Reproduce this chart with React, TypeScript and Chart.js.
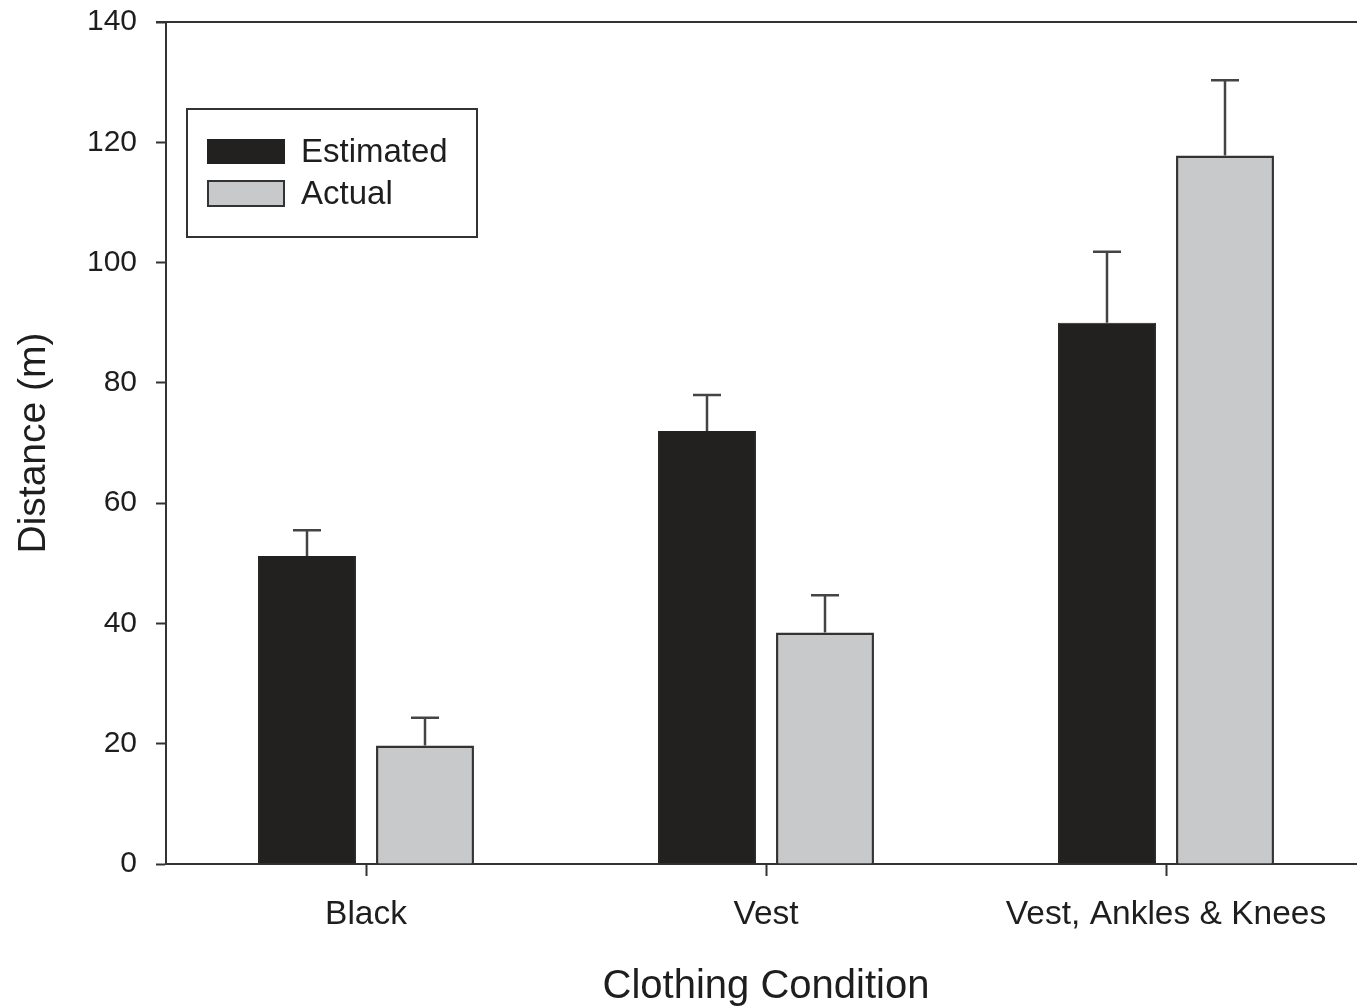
import React, { useEffect, useRef } from "react";
import { Chart, registerables } from "chart.js";

Chart.register(...registerables);

const categories = ["Black", "Vest", "Vest, Ankles & Knees"];
const seriesNames = ["Estimated", "Actual"];
const estimatedValues = [51.2, 72, 90];
const estimatedErrors = [4.3, 6, 11.8];
const actualValues = [19.7, 38.5, 117.8];
const actualErrors = [4.6, 6.2, 12.5];
const yTicks = [0, 20, 40, 60, 80, 100, 120, 140];

const FONT = "'Liberation Sans', Arial, sans-serif";
const TEXT = "#1e1e1e";
const LINE = "#333333";

const errorBarsPlugin = {
  id: "errorBars",
  afterDatasetsDraw(chart: any) {
    const ctx = chart.ctx;
    const yScale = chart.scales.y;
    chart.data.datasets.forEach((ds: any, di: number) => {
      const meta = chart.getDatasetMeta(di);
      const errs: number[] = ds.errors || [];
      meta.data.forEach((bar: any, i: number) => {
        const v = ds.data[i];
        const e = errs[i];
        if (e == null) return;
        const yTop = yScale.getPixelForValue(v + e);
        const yBar = yScale.getPixelForValue(v);
        ctx.save();
        ctx.strokeStyle = "#444444";
        ctx.lineWidth = 2.5;
        ctx.beginPath();
        ctx.moveTo(bar.x, yBar);
        ctx.lineTo(bar.x, yTop);
        ctx.moveTo(bar.x - 14, yTop);
        ctx.lineTo(bar.x + 14, yTop);
        ctx.stroke();
        ctx.restore();
      });
    });
  },
};

const frameAndLegendPlugin = {
  id: "frameAndLegend",
  afterDraw(chart: any) {
    const ctx = chart.ctx;
    const area = chart.chartArea;
    ctx.save();
    // top frame line
    ctx.strokeStyle = LINE;
    ctx.lineWidth = 2;
    ctx.beginPath();
    ctx.moveTo(area.left - 10, area.top);
    ctx.lineTo(chart.width, area.top);
    ctx.stroke();

    // legend box
    const bx = 187, by = 109, bw = 290, bh = 128;
    ctx.lineWidth = 2;
    ctx.strokeStyle = LINE;
    ctx.strokeRect(bx, by, bw, bh);
    const rows = [
      { y: 140, h: 23, ds: chart.data.datasets[0] },
      { y: 181, h: 25, ds: chart.data.datasets[1] },
    ];
    ctx.font = `33px ${FONT}`;
    ctx.textBaseline = "middle";
    ctx.textAlign = "left";
    rows.forEach((r) => {
      ctx.fillStyle = r.ds.backgroundColor;
      ctx.fillRect(208, r.y, 76, r.h);
      ctx.strokeStyle = r.ds.borderColor;
      ctx.lineWidth = 2;
      ctx.strokeRect(208, r.y, 76, r.h);
      ctx.fillStyle = TEXT;
      ctx.fillText(r.ds.label, 301, r.y + r.h / 2 + 1);
    });
    ctx.restore();
  },
};

export default function App() {
  const ref = useRef<HTMLCanvasElement | null>(null);

  useEffect(() => {
    if (!ref.current) return;
    const chart = new Chart(ref.current, {
      type: "bar",
      data: {
        labels: categories,
        datasets: [
          {
            label: seriesNames[0],
            data: estimatedValues,
            errors: estimatedErrors,
            backgroundColor: "#222120",
            borderColor: "#222120",
            borderWidth: 1,
            categoryPercentage: 0.59,
            barPercentage: 0.83,
          } as any,
          {
            label: seriesNames[1],
            data: actualValues,
            errors: actualErrors,
            backgroundColor: "#c8c9cb",
            borderColor: "#333333",
            borderWidth: 2.5,
            categoryPercentage: 0.59,
            barPercentage: 0.83,
          } as any,
        ],
      },
      options: {
        responsive: false,
        animation: false,
        devicePixelRatio: 1,
        layout: { padding: { top: 22, right: 4, bottom: 0, left: 0 } },
        plugins: {
          legend: { display: false },
          tooltip: { enabled: false },
        },
        scales: {
          x: {
            offset: true,
            grid: {
              display: true,
              drawOnChartArea: false,
              drawTicks: true,
              tickLength: 12,
              tickWidth: 2,
              tickColor: LINE,
              offset: false,
            },
            border: { display: true, color: LINE, width: 2 },
            ticks: {
              color: TEXT,
              font: { family: FONT, size: 33.5 },
              padding: 19,
              maxRotation: 0,
              autoSkip: false,
            },
            title: {
              display: true,
              text: "Clothing Condition",
              color: TEXT,
              font: { family: FONT, size: 40, lineHeight: 1.05 },
              padding: { top: 0, bottom: 0 },
            },
            afterFit(scale: any) {
              scale.height = 144;
              scale.paddingLeft = 0;
              scale.paddingRight = 0;
            },
          },
          y: {
            min: 0,
            max: 140,
            afterBuildTicks(scale: any) {
              scale.ticks = yTicks.map((v) => ({ value: v }));
            },
            grid: {
              display: true,
              drawOnChartArea: false,
              drawTicks: true,
              tickLength: 10,
              tickWidth: 2,
              tickColor: LINE,
            },
            border: { display: true, color: LINE, width: 2 },
            ticks: {
              color: TEXT,
              font: { family: FONT, size: 30 },
              padding: 19,
            },
            title: {
              display: true,
              text: "Distance (m)",
              color: TEXT,
              font: { family: FONT, size: 39 },
              padding: { top: 11, bottom: 0 },
            },
            afterFit(scale: any) {
              scale.width = 166;
              scale.paddingTop = 0;
              scale.paddingBottom = 0;
            },
          },
        },
      },
      plugins: [errorBarsPlugin, frameAndLegendPlugin],
    } as any);
    return () => chart.destroy();
  }, []);

  return (
    <div
      style={{
        position: "absolute",
        left: 0,
        top: 0,
        width: 1357,
        height: 1008,
        overflow: "hidden",
        background: "#ffffff",
      }}
    >
      <canvas ref={ref} width={1370} height={1008} style={{ display: "block" }} />
    </div>
  );
}
